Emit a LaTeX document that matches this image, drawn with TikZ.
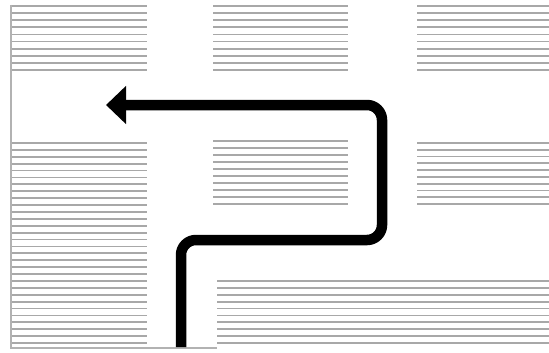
\documentclass[tikz,border=0pt]{standalone}
\usetikzlibrary{arrows.meta}
\newcommand\hatchblock[5]{%
  \foreach \i [evaluate=\i as \yy using {#2+\i*(#4-#2)/(#5-1)}] in {0,...,\numexpr#5-1\relax}
    \draw[hatchline] (#1,\yy) -- (#3,\yy);%
}
\begin{document}
\begin{tikzpicture}[x=1pt,y=-1pt,
  hatchline/.style={draw=gray!68,line width=1.8pt},
  framel/.style={draw=gray!60,line width=1.4pt},
  route/.style={draw=black,line width=10.5pt,rounded corners=15pt,
    -{Triangle[length=20pt,width=37pt]}}]
\useasboundingbox (0,0) rectangle (549,353);
\fill[white] (0,0) rectangle (549,353);
% blocks
\hatchblock{11}{6}{147}{70}{10}
\hatchblock{213}{6}{348}{70}{10}
\hatchblock{417}{6}{549}{70}{10}
\hatchblock{11}{143}{147}{343}{30}
\hatchblock{213}{141}{348}{204}{10}
\hatchblock{417}{143}{549}{204}{10}
\hatchblock{217}{281}{549}{343}{10}
% frame
\draw[framel] (11,5) -- (11,348) -- (217,348);
% route
\coordinate (start) at (181,347);
\coordinate (c1) at (181,240);
\coordinate (c2) at (382,240);
\coordinate (c3) at (382,105);
\coordinate (tip) at (106,105);
\draw[route] (start) -- (c1) -- (c2) -- (c3) -- (tip);
\end{tikzpicture}
\end{document}
